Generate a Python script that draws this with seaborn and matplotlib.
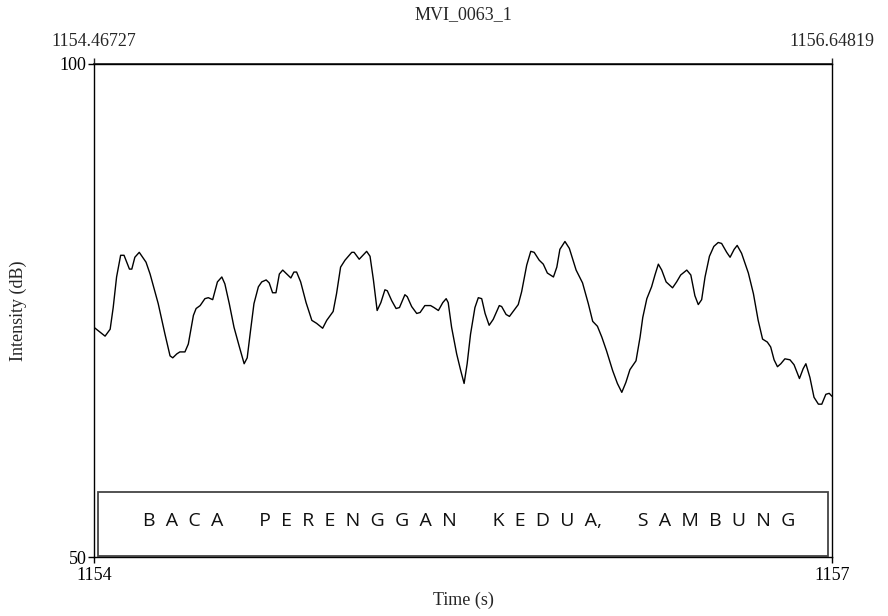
import matplotlib
matplotlib.use("Agg")
import matplotlib.pyplot as plt
import seaborn as sns
import pandas as pd
from matplotlib.patches import Rectangle

# Intensity contour (time in s, intensity in dB)
time_s = [
    1154.467, 1154.500, 1154.515, 1154.524, 1154.534, 1154.546, 1154.556, 1154.572,
    1154.579, 1154.588, 1154.601, 1154.621, 1154.633, 1154.657, 1154.677, 1154.692,
    1154.700, 1154.712, 1154.721, 1154.736, 1154.746, 1154.761, 1154.769, 1154.781,
    1154.795, 1154.805, 1154.818, 1154.832, 1154.845, 1154.854, 1154.867, 1154.881,
    1154.897, 1154.911, 1154.920, 1154.930, 1154.940, 1154.953, 1154.963, 1154.976,
    1154.985, 1154.995, 1155.005, 1155.015, 1155.025, 1155.037, 1155.049, 1155.058,
    1155.066, 1155.078, 1155.094, 1155.111, 1155.125, 1155.143, 1155.155, 1155.174,
    1155.184, 1155.196, 1155.209, 1155.229, 1155.236, 1155.251, 1155.273, 1155.283,
    1155.293, 1155.304, 1155.315, 1155.327, 1155.334, 1155.347, 1155.360, 1155.370,
    1155.386, 1155.393, 1155.406, 1155.421, 1155.431, 1155.445, 1155.462, 1155.472,
    1155.485, 1155.498, 1155.508, 1155.514, 1155.524, 1155.539, 1155.551, 1155.561,
    1155.570, 1155.580, 1155.593, 1155.603, 1155.613, 1155.623, 1155.635, 1155.647,
    1155.665, 1155.672, 1155.685, 1155.695, 1155.706, 1155.721, 1155.731, 1155.746,
    1155.758, 1155.768, 1155.783, 1155.795, 1155.807, 1155.825, 1155.835, 1155.844,
    1155.859, 1155.872, 1155.892, 1155.911, 1155.928, 1155.941, 1155.955, 1155.968,
    1155.982, 1156.000, 1156.014, 1156.027, 1156.039, 1156.051, 1156.069, 1156.081,
    1156.089, 1156.101, 1156.115, 1156.125, 1156.135, 1156.145, 1156.158, 1156.177,
    1156.189, 1156.201, 1156.219, 1156.231, 1156.243, 1156.253, 1156.263, 1156.273,
    1156.286, 1156.299, 1156.312, 1156.322, 1156.337, 1156.347, 1156.359, 1156.368,
    1156.381, 1156.401, 1156.416, 1156.430, 1156.443, 1156.457, 1156.467, 1156.477,
    1156.487, 1156.497, 1156.509, 1156.524, 1156.536, 1156.552, 1156.563, 1156.571,
    1156.583, 1156.595, 1156.608, 1156.618, 1156.630, 1156.640, 1156.648,
]
intensity_db = [
    73.3, 72.4, 73.1, 75.3, 78.4, 80.6, 80.6, 79.2,
    79.2, 80.4, 80.9, 79.9, 78.7, 75.7, 72.6, 70.4,
    70.2, 70.6, 70.8, 70.8, 71.6, 74.5, 75.2, 75.5,
    76.2, 76.3, 76.1, 77.9, 78.4, 77.7, 75.7, 73.3,
    71.3, 69.6, 70.2, 73.0, 75.7, 77.4, 77.9, 78.1,
    77.8, 76.8, 76.8, 78.7, 79.1, 78.7, 78.3, 78.9,
    78.9, 77.9, 75.8, 74.0, 73.7, 73.2, 74.0, 74.9,
    76.7, 79.4, 80.1, 80.9, 80.9, 80.2, 81.0, 80.5,
    78.1, 75.0, 75.8, 77.1, 77.0, 76.0, 75.2, 75.3,
    76.6, 76.4, 75.4, 74.7, 74.8, 75.5, 75.5, 75.3,
    75.0, 75.8, 76.2, 75.8, 73.3, 70.6, 68.9, 67.6,
    69.6, 72.6, 75.3, 76.3, 76.2, 74.7, 73.5, 74.1,
    75.5, 75.4, 74.6, 74.4, 74.9, 75.6, 76.9, 79.6,
    81.0, 80.9, 80.1, 79.7, 78.8, 78.4, 79.4, 81.2,
    82.0, 81.3, 79.1, 77.8, 75.7, 73.9, 73.4, 72.3,
    70.9, 68.9, 67.6, 66.7, 67.7, 69.0, 69.9, 72.3,
    74.3, 76.2, 77.4, 78.6, 79.7, 79.1, 77.9, 77.3,
    77.9, 78.6, 79.1, 78.6, 76.5, 75.6, 76.1, 78.4,
    80.5, 81.5, 81.9, 81.8, 80.9, 80.4, 81.2, 81.6,
    80.8, 78.8, 76.7, 74.0, 72.1, 71.8, 71.3, 70.0,
    69.3, 69.6, 70.1, 70.0, 69.5, 68.1, 69.1, 69.6,
    68.2, 66.2, 65.5, 65.5, 66.5, 66.6, 66.3,
]

x_range = [1154.46727, 1156.64819]
bottom_labels = ["1154", "1157"]
top_labels = ["1154.46727", "1156.64819"]
y_range = [50, 100]
title = "MVI_0063_1"
tier_text = "B  A  C  A       P  E  R  E  N  G  G  A  N       K  E  D  U  A,       S  A  M  B  U  N  G"

df = pd.DataFrame({"time": time_s, "intensity": intensity_db})

sns.set_theme(style="ticks")
plt.rcParams["font.family"] = ["Liberation Serif", "DejaVu Serif"]

fig = plt.figure(figsize=(8.88, 6.16), dpi=100)
ax = fig.add_axes([94 / 888, 1 - 557 / 616, 738 / 888, 493 / 616])

sns.lineplot(data=df, x="time", y="intensity", ax=ax, color="black", linewidth=1.0)

ax.set_xlim(*x_range)
ax.set_ylim(*y_range)
for sp in ax.spines.values():
    sp.set_visible(True)
    sp.set_color("black")
    sp.set_linewidth(1.0)

ax.set_xticks(x_range, labels=bottom_labels)
ax.set_yticks(y_range, labels=[str(v) for v in y_range])
ax.tick_params(axis="both", direction="out", length=4.5, width=1.0, color="black",
               labelsize=13, labelcolor="black", pad=1)
ax.tick_params(axis="x", top=False, bottom=True, pad=3)
ax.tick_params(axis="y", left=True, right=False)

secx = ax.secondary_xaxis("top")
secx.set_xticks(x_range, labels=top_labels)
secx.tick_params(direction="out", length=4, width=1.0, labelsize=13, pad=6)

ax.set_xlabel("Time (s)", fontsize=13)
ax.xaxis.set_label_coords(0.5, -35 / 493)
ax.set_ylabel("Intensity (dB)", fontsize=13)
ax.yaxis.set_label_coords(-67 / 738, 0.5)
fig.text(0.5215, 1 - 15 / 616, title, ha="center", va="center", fontsize=13)

# text tier box at the bottom
box = Rectangle((4 / 738, 1.5 / 493), 730 / 738, 64 / 493, transform=ax.transAxes,
                fill=False, edgecolor="#444444", linewidth=1.3)
ax.add_patch(box)
ax.text((469 - 94) / 738, 0.074, tier_text, transform=ax.transAxes,
        ha="center", va="center", fontsize=14, family=["Open Sans", "DejaVu Sans"],
        color="#111111")

fig.savefig("out.png", dpi=100)
